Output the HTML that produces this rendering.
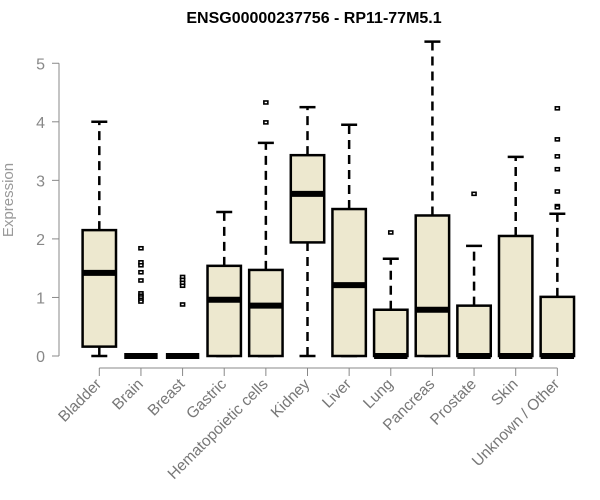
<!DOCTYPE html>
<html><head><meta charset="utf-8"><style>
html,body{margin:0;padding:0;background:#fff;}
svg{display:block;font-family:"Liberation Sans",Arial,sans-serif;}
</style></head><body>
<svg id="chart" width="600" height="500" viewBox="0 0 600 500" xmlns="http://www.w3.org/2000/svg">
<text x="314" y="23" text-anchor="middle" font-size="16" font-weight="bold" fill="#000">ENSG00000237756 - RP11-77M5.1</text>
<text transform="translate(13,200) rotate(-90)" text-anchor="middle" font-size="15" fill="#999">Expression</text>
<g id="axes"></g>
<g id="boxes"></g>
</svg>
<script>
const categories=["Bladder","Brain","Breast","Gastric","Hematopoietic cells","Kidney","Liver","Lung","Pancreas","Prostate","Skin","Unknown / Other"];
const whiskerLow=[0,0,0,0,0,0,0,0,0,0,0,0];
const q1=[0.16,0,0,0,0,1.94,0,0,0,0,0,0];
const medians=[1.42,0,0,0.96,0.86,2.77,1.21,0,0.79,0,0,0];
const q3=[2.15,0,0,1.54,1.47,3.43,2.51,0.79,2.40,0.86,2.05,1.01];
const whiskerHigh=[4.0,0,0,2.46,3.64,4.25,3.95,1.66,5.37,1.88,3.40,2.43];
const outliers=[[],[1.84,1.6,1.55,1.43,1.29,1.07,1.03,1.0,0.96,0.93],[1.35,1.3,1.25,1.2,0.88],[],[4.33,3.99],[],[],[2.11],[],[2.77],[],[4.23,3.70,3.41,3.19,2.81,2.56,2.54]];
const yTicks=[0,1,2,3,4,5];

const NS="http://www.w3.org/2000/svg";
const y=v=>356-v*58.55;
const x=i=>99.3+i*41.64;
const bw=33.4;
function mk(tag,attrs,parent){const e=document.createElementNS(NS,tag);for(const k in attrs)e.setAttribute(k,attrs[k]);parent.appendChild(e);return e;}
const axes=document.getElementById('axes'),boxes=document.getElementById('boxes');
let yl=mk('line',{x1:59,x2:59,y1:y(0),y2:y(5),stroke:'#888','stroke-width':1},axes);


yTicks.forEach(t=>{
  let tk=mk('line',{x1:52,x2:59,y1:y(t),y2:y(t),stroke:'#888'},axes);
  
  
  let tx=mk('text',{x:45,y:y(t)+6,'text-anchor':'end','font-size':16,fill:'#888'},axes);
  tx.textContent=t;
  
  
});
let xl=mk('line',{x1:x(0),x2:x(categories.length-1),y1:368,y2:368,stroke:'#888'},axes);


categories.forEach((c,i)=>{
  let tk=mk('line',{x1:x(i),x2:x(i),y1:368,y2:376,stroke:'#888'},axes);
  
  
  let tx=mk('text',{transform:`translate(${x(i)+3},${385}) rotate(-45)`,'text-anchor':'end','font-size':15.5,fill:'#777'},axes);
  tx.textContent=c;
  
  
  const g=mk('g',{},boxes);
  
  
  const cx=x(i);
  if(whiskerHigh[i]>q3[i]){
    mk('line',{x1:cx,x2:cx,y1:y(q3[i]),y2:y(whiskerHigh[i]),stroke:'#000','stroke-width':2.5,'stroke-dasharray':'9,6'},g);
    mk('line',{x1:cx-8,x2:cx+8,y1:y(whiskerHigh[i]),y2:y(whiskerHigh[i]),stroke:'#000','stroke-width':2.5},g);
  }
  if(q1[i]>whiskerLow[i]){
    mk('line',{x1:cx,x2:cx,y1:y(whiskerLow[i]),y2:y(q1[i]),stroke:'#000','stroke-width':2.5,'stroke-dasharray':'9,6'},g);
  }
  mk('line',{x1:cx-8,x2:cx+8,y1:y(whiskerLow[i]),y2:y(whiskerLow[i]),stroke:'#000','stroke-width':2.5},g);
  if(q3[i]>q1[i]) mk('rect',{x:cx-bw/2,y:y(q3[i]),width:bw,height:y(q1[i])-y(q3[i]),fill:'#ede8cf',stroke:'#000','stroke-width':2.5},g);
  mk('line',{x1:cx-bw/2,x2:cx+bw/2,y1:y(medians[i]),y2:y(medians[i]),stroke:'#000','stroke-width':6},g);
  outliers[i].forEach(v=>{
    let p=mk('rect',{x:cx-2,y:y(v)-1.5,width:4,height:3,fill:'#fff',stroke:'#000','stroke-width':1.6},g);
    
    
  });
});
</script>
</body></html>
